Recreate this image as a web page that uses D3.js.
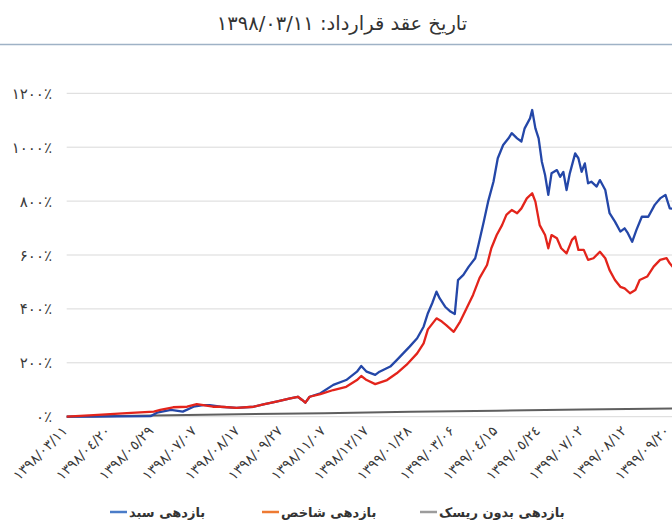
<!DOCTYPE html>
<html>
<head>
<meta charset="utf-8">
<script src="https://cdn.jsdelivr.net/npm/d3@7"></script>
<style>
  body { margin: 0; background: #fff; }
  text { font-family: "DejaVu Sans", sans-serif; }
</style>
</head>
<body>
<div id="chart"></div>
<script>
// chart data (x = days since the contract date, values in %)
const title = "تاریخ عقد قرارداد: ۱۳۹۸/۰۳/۱۱";

const tickDays = [0, 40, 80, 120, 160, 200, 240, 280, 320, 360, 400, 440, 480, 520, 560];
const tickLabels = [
  "۱۳۹۸/۰۳/۱۱", "۱۳۹۸/۰٤/۲۰", "۱۳۹۸/۰٥/۲۹", "۱۳۹۸/۰۷/۰۷", "۱۳۹۸/۰۸/۱۷",
  "۱۳۹۸/۰۹/۲۷", "۱۳۹۸/۱۱/۰۷", "۱۳۹۸/۱۲/۱۷", "۱۳۹۹/۰۱/۲۸", "۱۳۹۹/۰۳/۰۶",
  "۱۳۹۹/۰٤/۱۵", "۱۳۹۹/۰٥/۲٤", "۱۳۹۹/۰۷/۰۲", "۱۳۹۹/۰۸/۱۲", "۱۳۹۹/۰۹/۲۰"
];
const yTicks = [0, 200, 400, 600, 800, 1000, 1200];
const yTickLabels = ["۰٪", "۲۰۰٪", "۴۰۰٪", "۶۰۰٪", "۸۰۰٪", "۱۰۰۰٪", "۱۲۰۰٪"];

// بازدهی سبد
const basketDays = [0, 24, 78, 84, 97, 108, 118, 127, 133, 143, 158, 174, 183, 195, 208, 215, 219, 222, 226, 236,
  248, 260, 270, 274, 279, 287, 291, 301, 307, 313, 319, 326, 332, 336, 340, 344, 347, 352, 357, 361,
  364, 369, 374, 380, 383, 388, 392, 397, 401, 406, 411, 414, 419, 423, 426, 431, 433, 436, 439, 442,
  445, 448, 451, 456, 459, 462, 465, 468, 473, 476, 479, 482, 485, 488, 493, 496, 501, 505, 510, 515,
  519, 522, 526, 530, 535, 541, 547, 552, 557, 561, 566];
const basketValues = [0, 0, 2, 15, 25, 19, 37, 43, 43, 37, 33, 37, 46, 56, 68, 74, 62, 52, 74, 87,
  118, 136, 167, 188, 167, 155, 167, 186, 210, 235, 260, 291, 334, 384, 421, 464, 439, 408, 390, 381,
  507, 526, 557, 588, 637, 724, 798, 872, 959, 1008, 1033, 1052, 1033, 1021, 1070, 1107, 1138, 1070, 1033, 946,
  897, 823, 903, 915, 890, 908, 841, 903, 977, 959, 909, 940, 866, 872, 854, 878, 841, 755, 724, 687,
  699, 681, 649, 693, 742, 742, 786, 810, 823, 773, 770];

// بازدهی شاخص
const indexDays = [0, 25, 56, 81, 87, 99, 112, 121, 127, 136, 143, 158, 174, 183, 195, 208, 215, 219, 222, 226,
  236, 248, 260, 270, 274, 279, 287, 298, 307, 316, 326, 332, 336, 344, 349, 353, 360, 366, 372, 378,
  384, 391, 395, 400, 405, 409, 414, 419, 423, 428, 433, 436, 440, 445, 448, 451, 456, 460, 465, 470,
  473, 476, 481, 485, 490, 496, 501, 505, 510, 515, 519, 524, 529, 533, 540, 546, 552, 558, 561, 566];
const indexValues = [0, 6, 13, 19, 25, 35, 37, 47, 43, 37, 37, 33, 37, 46, 56, 68, 74, 62, 52, 74,
  84, 99, 111, 136, 151, 136, 121, 136, 161, 192, 235, 272, 324, 365, 353, 340, 315, 353, 402, 452,
  514, 563, 625, 674, 711, 749, 767, 755, 773, 810, 829, 798, 711, 674, 625, 674, 662, 625, 606, 656,
  668, 619, 619, 582, 588, 612, 588, 544, 507, 482, 476, 458, 470, 507, 520, 557, 582, 588, 569, 545];

// بازدهی بدون ریسک
const riskFreeDays = [0, 80, 160, 240, 320, 400, 480, 566];
const riskFreeValues = [0, 4, 9, 13, 18, 22, 27, 31];

const legendLabels = ["بازدهی سبد", "بازدهی شاخص", "بازدهی بدون ریسک"];

const W = 672, H = 529;
const plotLeft = 66.7, plotRight = 672;

const svg = d3.select('#chart')
  .append('svg')
  .attr('width', W)
  .attr('height', H)
  .style('display', 'block');

// title + rule
svg.append('text')
  .attr('x', 342)
  .attr('y', 30)
  .attr('text-anchor', 'middle')
  .attr('direction', 'rtl')
  .style('font-size', '19.5px')
  .style('fill', '#333')
  .text(title);

svg.append('line')
  .attr('x1', 0).attr('x2', W)
  .attr('y1', 44.5).attr('y2', 44.5)
  .style('stroke', '#9fb2c6')
  .style('stroke-width', 1.5);

// scales
const x = d3.scaleLinear()
  .domain([0, 560])
  .range([plotLeft, plotLeft + 560 * 1.075]);

const y = d3.scaleLinear()
  .domain([0, 1200])
  .range([416.7, 93.3]);

// gridlines + y labels
svg.append('g')
  .selectAll('line')
  .data(yTicks)
  .enter()
  .append('line')
    .attr('x1', plotLeft)
    .attr('x2', plotRight)
    .attr('y1', d => y(d))
    .attr('y2', d => y(d))
    .style('stroke', '#d9d9d9')
    .style('stroke-width', 1);

svg.append('g')
  .selectAll('text')
  .data(yTicks)
  .enter()
  .append('text')
    .attr('x', 52)
    .attr('y', d => y(d) + 5.5)
    .attr('text-anchor', 'end')
    .style('font-size', '15px')
    .style('fill', '#3a3a3a')
    .text((d, i) => yTickLabels[i]);

// x axis labels
const xAxis = d3.axisBottom(x)
  .tickValues(tickDays)
  .tickSize(0)
  .tickFormat((d, i) => tickLabels[i]);

const gx = svg.append('g')
  .attr('transform', `translate(0, ${y(0)})`)
  .call(xAxis);
gx.select('.domain').remove();
gx.selectAll('text')
  .attr('y', 0)
  .attr('dy', 0)
  .attr('transform', 'translate(1, 15) rotate(-45)')
  .style('text-anchor', 'end')
  .style('font-family', '"DejaVu Sans", sans-serif')
  .style('font-size', '14px')
  .style('fill', '#3a3a3a');

// lines
const mkLine = (days) => d3.line()
  .x((d, i) => x(days[i]))
  .y(d => y(d));

svg.append('path')
  .datum(riskFreeValues)
  .attr('fill', 'none')
  .style('stroke', '#5f5f5f')
  .style('stroke-width', 2)
  .attr('d', mkLine(riskFreeDays));

svg.append('path')
  .datum(basketValues)
  .attr('fill', 'none')
  .style('stroke', '#2447a8')
  .style('stroke-width', 2.3)
  .style('stroke-linejoin', 'round')
  .attr('d', mkLine(basketDays));

svg.append('path')
  .datum(indexValues)
  .attr('fill', 'none')
  .style('stroke', '#e3241b')
  .style('stroke-width', 2.3)
  .style('stroke-linejoin', 'round')
  .attr('d', mkLine(indexDays));

// legend
const legendColors = ['#4a7cc8', '#ee7a32', '#9c9c9c'];
const legendSwatchX = [110, 262, 420];
const legend = svg.append('g');
legendLabels.forEach((lbl, i) => {
  legend.append('line')
    .attr('x1', legendSwatchX[i]).attr('x2', legendSwatchX[i] + 17)
    .attr('y1', 512).attr('y2', 512)
    .style('stroke', legendColors[i])
    .style('stroke-width', 2.5);
  legend.append('text')
    .attr('x', legendSwatchX[i] + 19)
    .attr('y', 517)
    .style('font-size', '13px')
    .style('font-weight', 'bold')
    .style('fill', '#333')
    .text(lbl);
});
</script>
</body>
</html>
